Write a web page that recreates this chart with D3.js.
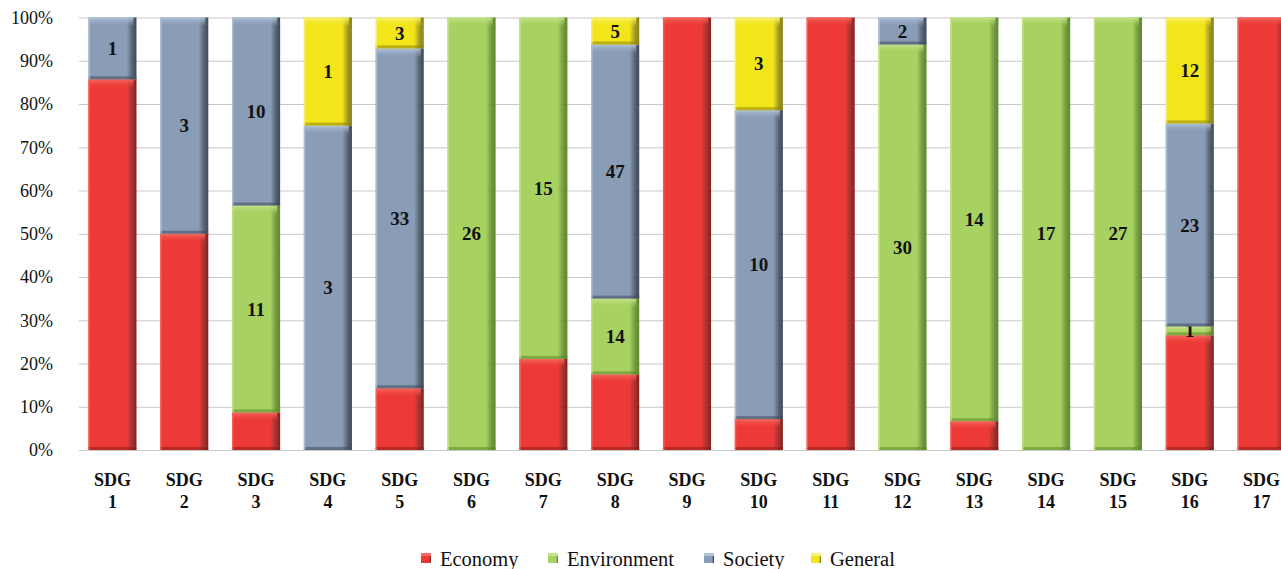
<!DOCTYPE html>
<html>
<head>
<meta charset="utf-8">
<script src="https://cdn.jsdelivr.net/npm/d3@7"></script>
</head>
<body style="margin:0; background:#fff">
<svg id="chart" style="display:block"></svg>
<script>
// ---- DATA ----
const goals = ['SDG 1', 'SDG 2', 'SDG 3', 'SDG 4', 'SDG 5', 'SDG 6', 'SDG 7', 'SDG 8', 'SDG 9',
  'SDG 10', 'SDG 11', 'SDG 12', 'SDG 13', 'SDG 14', 'SDG 15', 'SDG 16', 'SDG 17'];
const categories = ['Economy', 'Environment', 'Society', 'General'];
// economy counts are not printed in the picture; estimated from the bar shares
const economy     = [6, 3, 2, 0, 6, 0, 4, 14, 10, 1, 8, 0, 1, 0, 0, 13, 9];
const environment = [0, 0, 11, 0, 0, 26, 15, 14, 0, 0, 0, 30, 14, 17, 27, 1, 0];
const society     = [1, 3, 10, 3, 33, 0, 0, 47, 0, 10, 0, 2, 0, 0, 0, 23, 0];
const general     = [0, 0, 0, 1, 3, 0, 0, 5, 0, 3, 0, 0, 0, 0, 0, 12, 0];
const yTicks = [0, 0.1, 0.2, 0.3, 0.4, 0.5, 0.6, 0.7, 0.8, 0.9, 1];

const colors = {
  Economy:     {base: '#ee3a37', light: '#f36a62', dark: '#8c1c1a'},
  Environment: {base: '#a7d160', light: '#c4e38b', dark: '#5d8a2a'},
  Society:     {base: '#8a9db6', light: '#b3c4da', dark: '#3f4b5c'},
  General:     {base: '#f2e519', light: '#f8f07a', dark: '#8e8410'}
};
const showLabel = {Economy: false, Environment: true, Society: true, General: true};
const serif = '"Liberation Serif"';

const width = 1281, height = 569;
const svg = d3.select('#chart').attr('width', width).attr('height', height);

const rows = goals.map((g, i) => ({
  goal: g, Economy: economy[i], Environment: environment[i], Society: society[i], General: general[i]
}));

const stacked = d3.stack().keys(categories).offset(d3.stackOffsetExpand)(rows);

// the last bar runs past the right edge, as in the original
const x = d3.scaleBand().domain(goals).range([76.5, 1297.5]).paddingInner(0.33).paddingOuter(0.165);
const y = d3.scaleLinear().domain([0, 1]).range([450, 17.5]);

// ---- gradients ----
const defs = svg.append('defs');
categories.forEach(c => {
  const g = defs.append('linearGradient').attr('id', 'grad-' + c)
    .attr('x1', 0).attr('x2', 1).attr('y1', 0).attr('y2', 0);
  g.append('stop').attr('offset', '0%').attr('stop-color', colors[c].base);
  g.append('stop').attr('offset', '80%').attr('stop-color', colors[c].base);
  g.append('stop').attr('offset', '93%').attr('stop-color', colors[c].dark).attr('stop-opacity', 0.9);
  g.append('stop').attr('offset', '100%').attr('stop-color', colors[c].dark);
  const t = defs.append('linearGradient').attr('id', 'top-' + c)
    .attr('x1', 0).attr('x2', 0).attr('y1', 0).attr('y2', 1);
  t.append('stop').attr('offset', '0%').attr('stop-color', colors[c].light);
  t.append('stop').attr('offset', '100%').attr('stop-color', colors[c].base).attr('stop-opacity', 0);
});

// ---- grid ----
svg.append('g')
  .attr('transform', 'translate(79,0)')
  .call(d3.axisLeft(y).tickValues(yTicks).tickSize(-(width - 79)).tickFormat(''))
  .call(g => g.select('.domain').remove())
  .call(g => g.selectAll('line').attr('stroke', '#c8c8c8').attr('stroke-width', 1));

// y tick labels
svg.append('g')
  .attr('transform', 'translate(53,0)')
  .call(d3.axisLeft(y).tickValues(yTicks).tickSize(0).tickPadding(0).tickFormat(d3.format('.0%')))
  .call(g => g.select('.domain').remove())
  .call(g => g.selectAll('text')
    .style('font-family', serif).style('font-size', '18px').attr('fill', '#111'));

// ---- bars ----
const layer = svg.append('g').selectAll('g.layer')
  .data(stacked)
  .join('g')
  .attr('class', 'layer');

const seg = layer.selectAll('g.seg')
  .data(s => s.filter(d => d[1] - d[0] > 0).map(d => ({key: s.key, d: d})))
  .join('g')
  .attr('class', 'seg');

seg.append('rect')
  .attr('x', p => x(p.d.data.goal))
  .attr('y', p => y(p.d[1]))
  .attr('width', x.bandwidth())
  .attr('height', p => y(p.d[0]) - y(p.d[1]))
  .attr('fill', p => `url(#grad-${p.key})`);

// top bevel highlight
seg.append('rect')
  .attr('x', p => x(p.d.data.goal) + 1)
  .attr('y', p => y(p.d[1]))
  .attr('width', x.bandwidth() - 4)
  .attr('height', p => Math.min(9, y(p.d[0]) - y(p.d[1])))
  .attr('fill', p => `url(#top-${p.key})`);

// bottom shadow edge
seg.append('rect')
  .attr('x', p => x(p.d.data.goal))
  .attr('y', p => y(p.d[0]) - Math.min(3, (y(p.d[0]) - y(p.d[1])) / 3))
  .attr('width', x.bandwidth())
  .attr('height', p => Math.min(3, (y(p.d[0]) - y(p.d[1])) / 3))
  .attr('fill', p => colors[p.key].dark)
  .attr('opacity', 0.55);

// left light edge
seg.append('rect')
  .attr('x', p => x(p.d.data.goal))
  .attr('y', p => y(p.d[1]))
  .attr('width', 1.5)
  .attr('height', p => y(p.d[0]) - y(p.d[1]))
  .attr('fill', p => colors[p.key].light)
  .attr('opacity', 0.8);

// segment labels
seg.filter(p => showLabel[p.key])
  .append('text')
  .attr('x', p => x(p.d.data.goal) + x.bandwidth() / 2)
  .attr('y', p => (y(p.d[0]) + y(p.d[1])) / 2)
  .attr('dy', '0.35em')
  .attr('text-anchor', 'middle')
  .style('font-family', serif)
  .style('font-size', '19px')
  .style('font-weight', 'bold')
  .attr('fill', '#111')
  .text(p => p.d.data[p.key]);

// ---- x axis labels ----
const xl = svg.append('g').selectAll('text')
  .data(goals)
  .join('text')
  .attr('x', d => x(d) + x.bandwidth() / 2)
  .attr('y', 486)
  .attr('text-anchor', 'middle')
  .style('font-family', serif)
  .style('font-size', '18px')
  .style('font-weight', 'bold')
  .attr('fill', '#111');
xl.append('tspan').attr('x', d => x(d) + x.bandwidth() / 2).text(d => d.split(' ')[0]);
xl.append('tspan').attr('x', d => x(d) + x.bandwidth() / 2).attr('dy', 22).text(d => d.split(' ')[1]);

// ---- legend ----
const legendX = [421, 548, 704, 811];
const legend = svg.append('g').selectAll('g')
  .data(categories)
  .join('g')
  .attr('transform', (d, i) => `translate(${legendX[i]},560)`);
legend.append('rect')
  .attr('x', 0).attr('y', -7).attr('width', 10).attr('height', 10)
  .attr('fill', d => `url(#grad-${d})`);
legend.append('rect')
  .attr('x', 0).attr('y', -7).attr('width', 10).attr('height', 3)
  .attr('fill', d => colors[d].light);
legend.append('text')
  .attr('x', 19).attr('y', 6)
  .style('font-family', serif)
  .style('font-size', '20.5px')
  .attr('fill', '#111')
  .text(d => d);
</script>
</body>
</html>
